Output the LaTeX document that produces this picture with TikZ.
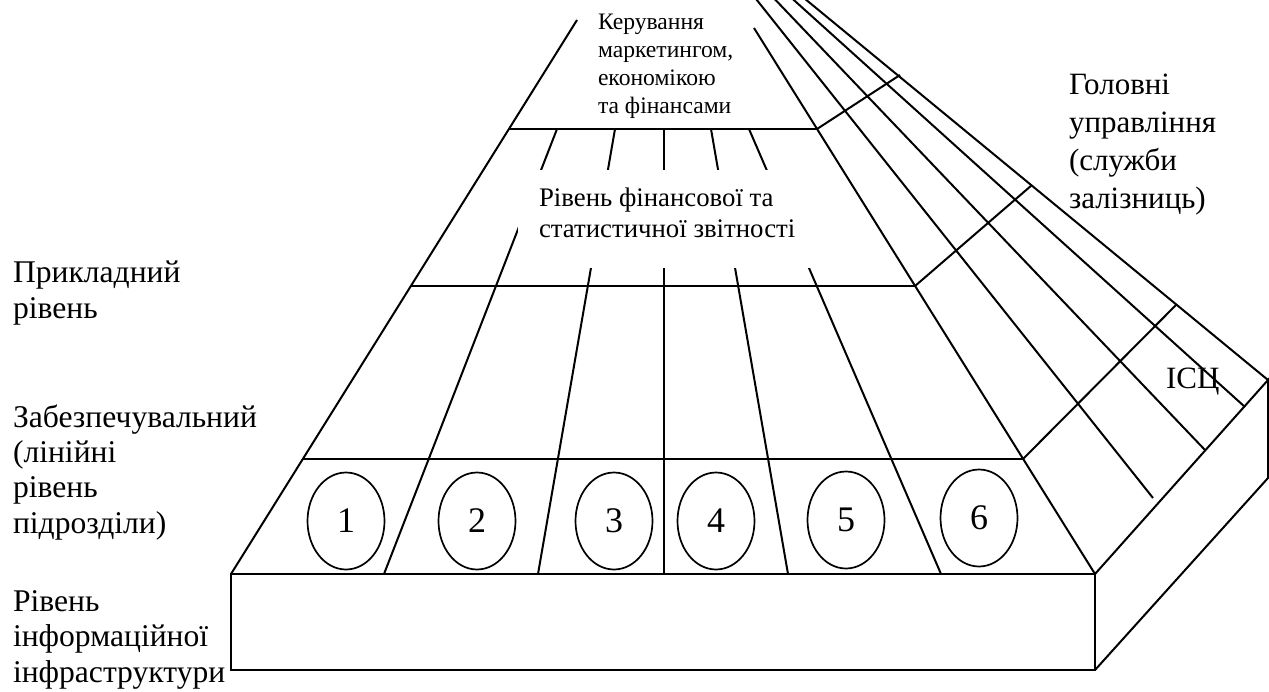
\documentclass[tikz,border=0pt]{standalone}
\usepackage{fontspec}
\setmainfont{Liberation Serif}
\usetikzlibrary{shapes.geometric}

\begin{document}
\begin{tikzpicture}[x=0.5pt,y=-0.5pt,line width=1pt]
\tikzstyle{every node}=[inner sep=0pt,align=left,anchor=base west]
\tikzstyle{side}=[font=\fontsize{15.8}{17.6}\selectfont]
\tikzstyle{head}=[font=\fontsize{15.5}{19}\selectfont]
\tikzstyle{unit}=[draw,ellipse,line width=0.85pt,anchor=center,minimum width=38.5pt,minimum height=48.5pt,font=\fontsize{18}{18}\selectfont]
\useasboundingbox (0,0) rectangle (1269,691);
\clip (0,0) rectangle (1269,691);
\coordinate (apex) at (663,-118);

% base slab
\draw (231,574) rectangle (1095,670);
\draw (1095,574) -- (1268,380) -- (1268,478) -- (1095,670);

% front face of the pyramid
\draw (231,574) -- (577,20);
\draw (1095,574) -- (754,28);
\draw (509,129) -- (817,129);
\draw (411,286) -- (915,286);
\draw (303,459) -- (1023,459);
\foreach \b/\t in {384/557,538/615,664/664,788/711,941/749}
  \draw (\b,574) -- (\t,129);

% side face
\foreach \e in {(1153,498),(1205,450),(1245,407),(1268,380)}
  \draw (apex) -- \e;
\draw (817,129) -- (900,75);
\draw (915,286) -- (1032,185);
\draw (1023,459) -- (1176,305);

% texts (anchored on the last line)
\fill[white] (518,170) rectangle (812,268);
\node[font=\fontsize{11.8}{13.85}\selectfont] (ctrl) at (597,113) {Керування\\маркетингом,\\економікою\\та фінансами};
\node[font=\fontsize{13.4}{15.5}\selectfont] (fin) at (538,237) {Рівень фінансової та\\статистичної звітності};
\node[head] (rail) at (1068,208) {Головні\\управління\\(служби\\залізниць)};
\node[head] (isc) at (1165,388) {ІСЦ};
\node[side] (appl) at (12,318) {Прикладний\\рівень};
\node[side] (supp) at (12,533) {Забезпечувальний\\(лінійні\\рівень\\підрозділи)};
\node[side] (infra) at (12,682) {Рівень\\інформаційної\\інфраструктури};

\foreach \n/\x/\y in {1/346/521,2/477/521,3/614/521,4/716/521,5/846/520,6/979/518}
  \node[unit] (u\n) at (\x,\y) {\n};
\end{tikzpicture}
\end{document}
